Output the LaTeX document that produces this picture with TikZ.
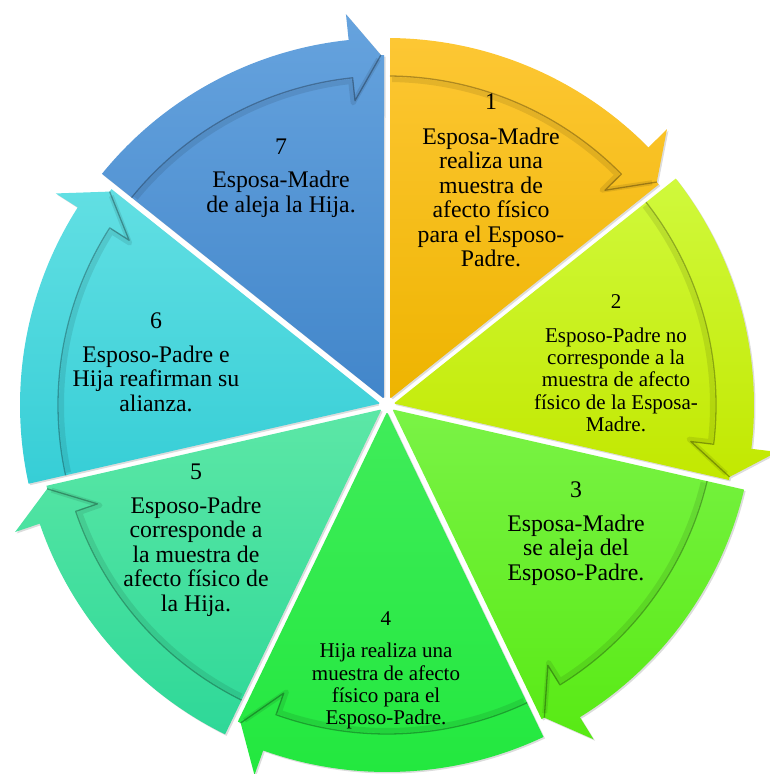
\documentclass[tikz,border=0pt]{standalone}
\usepackage{fontspec}
\setmainfont{Liberation Serif}
\usetikzlibrary{shadows}
\definecolor{ca1}{RGB}{253,199,52}\definecolor{cb1}{RGB}{238,180,0}
\definecolor{ca2}{RGB}{208,249,60}\definecolor{cb2}{RGB}{194,232,0}
\definecolor{ca3}{RGB}{122,243,70}\definecolor{cb3}{RGB}{88,234,20}
\definecolor{ca4}{RGB}{64,236,90}\definecolor{cb4}{RGB}{34,232,62}
\definecolor{ca5}{RGB}{92,231,166}\definecolor{cb5}{RGB}{46,216,152}
\definecolor{ca6}{RGB}{98,223,227}\definecolor{cb6}{RGB}{54,206,214}
\definecolor{ca7}{RGB}{102,163,222}\definecolor{cb7}{RGB}{66,134,202}
\newcommand{\bigtxt}{\fontsize{23.8}{24.5}\selectfont}
\newcommand{\smalltxt}{\fontsize{21}{22.3}\selectfont}
\tikzset{
  segshade/.style={drop shadow={opacity=.28,shadow xshift=1.5pt,shadow yshift=-1.5pt}},
  bandedge/.style={black,opacity=.3,line width=1.3pt,line join=round},
  bandglow/.style={black,opacity=.09,line width=5pt,line join=round},
  segtext/.style={anchor=base,inner sep=0pt,text=black}
}
\begin{document}
\begin{tikzpicture}[x=1pt,y=1pt]
\useasboundingbox (-387,-369) rectangle (383,405);
\foreach \k in {1,...,7}{
  \pgfmathsetmacro{\s}{90-(\k-1)*360/7}
  \pgfmathsetmacro{\e}{\s-360/7}
  \pgfmathsetmacro{\m}{\s-180/7}
  \path[segshade, top color=ca\k, bottom color=cb\k]
    (\m:7) -- (\s-0.47:367) arc[start angle=\s-0.47, end angle=\e+6, radius=367]
    -- (\e+6:393) -- (\e+1:350) -- (\e+0.49:350) -- cycle;
  \draw[bandglow] (\s-0.9:325.5) arc[start angle=\s-0.9, end angle=\e+6.4, radius=325.5] -- (\e+6.4:304) -- (\e+1.4:346);
  \draw[bandedge] (\s-0.5:329) arc[start angle=\s-0.5, end angle=\e+6, radius=329] -- (\e+6:306) -- (\e+1:350);
}
\fill[white] (0,0) circle[radius=8];
\node[segtext] (t1) at (104,295) {\bigtxt\begin{tabular}[t]{@{}c@{}}1\\[10pt]Esposa-Madre\\realiza una\\muestra de\\afecto físico\\para el Esposo-\\Padre.\end{tabular}};
\node[segtext] (t2) at (229,96) {\smalltxt\begin{tabular}[t]{@{}c@{}}2\\[11pt]Esposo-Padre no\\corresponde a la\\muestra de afecto\\físico de la Esposa-\\Madre.\end{tabular}};
\node[segtext] (t3) at (189,-92) {\bigtxt\begin{tabular}[t]{@{}c@{}}3\\[9.5pt]Esposa-Madre\\se aleja del\\Esposo-Padre.\end{tabular}};
\node[segtext] (t4) at (-1,-220) {\smalltxt\begin{tabular}[t]{@{}c@{}}4\\[10.5pt]Hija realiza una\\muestra de afecto\\físico para el\\Esposo-Padre.\end{tabular}};
\node[segtext] (t5) at (-191,-74) {\bigtxt\begin{tabular}[t]{@{}c@{}}5\\[9.5pt]Esposo-Padre\\corresponde a\\la muestra de\\afecto físico de\\la Hija.\end{tabular}};
\node[segtext] (t6) at (-231,77) {\bigtxt\begin{tabular}[t]{@{}c@{}}6\\[9.5pt]Esposo-Padre e\\Hija reafirman su\\alianza.\end{tabular}};
\node[segtext] (t7) at (-106,250) {\bigtxt\begin{tabular}[t]{@{}c@{}}7\\[8.5pt]Esposa-Madre\\de aleja la Hija.\end{tabular}};
\end{tikzpicture}
\end{document}
